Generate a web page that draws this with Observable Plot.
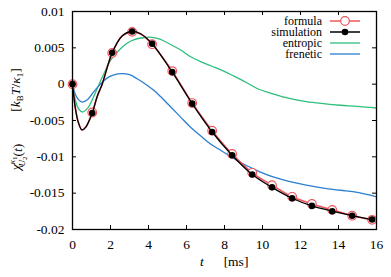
<!DOCTYPE html>
<html>
<head>
<meta charset="utf-8">
<script src="https://cdn.jsdelivr.net/npm/d3@7"></script>
<script src="https://cdn.jsdelivr.net/npm/@observablehq/plot@0.6"></script>
<style>
  body { margin: 0; background: #fff; }
</style>
</head>
<body>
<div id="chart"></div>
<script>
// ---- data ----
const markerT = [0, 1.04, 2.09, 3.14, 4.19, 5.25, 6.3, 7.35, 8.4, 9.46, 10.5, 11.56, 12.6, 13.67, 14.72, 15.77];
const formulaMarkers = [0, -0.0039, 0.0043, 0.0072, 0.0055, 0.0018, -0.0026, -0.0064, -0.0096, -0.0122, -0.0139, -0.0155, -0.01648, -0.0173, -0.0181, -0.01867];
const simulationMarkers = [0, -0.00397, 0.00432, 0.00725, 0.00556, 0.00166, -0.00268, -0.00658, -0.00978, -0.01243, -0.0142, -0.0157, -0.01675, -0.01748, -0.0181, -0.01863];

const curveT = [0, 0.15, 0.3, 0.5, 0.7, 1.04, 1.3, 1.56, 2.09, 2.6, 3.14, 3.6, 4.19, 5.25, 6.3, 7.35, 8.4, 9.46, 10.5, 11.56, 12.6, 13.67, 14.72, 15.77];
const simulationCurve = [0, -0.0033, -0.0052, -0.0063, -0.0059, -0.00397, -0.0017, 0, 0.00432, 0.0066, 0.00728, 0.0069, 0.00556, 0.00166, -0.00268, -0.00658, -0.00978, -0.01243, -0.0142, -0.0157, -0.01675, -0.01748, -0.0181, -0.01863];
const formulaCurve = [0, -0.0033, -0.0052, -0.0063, -0.0059, -0.0039, -0.0017, 0, 0.0043, 0.0066, 0.0072, 0.0069, 0.0055, 0.0018, -0.0026, -0.0064, -0.0096, -0.0122, -0.0139, -0.0155, -0.01648, -0.0173, -0.0181, -0.01867];

const entropicT = [0, 0.15, 0.3, 0.51, 0.8, 1.1, 1.4, 1.7, 2.0, 2.35, 2.7, 3.05, 3.4, 3.75, 4.1, 4.6, 5.16, 5.7, 6.2, 6.74, 7.3, 7.96, 8.5, 9.1, 9.72, 10.5, 11.47, 12.3, 13.2, 14.1, 14.98, 16];
const entropic = [0, -0.0022, -0.0033, -0.00383, -0.0033, -0.0018, 0, 0.0017, 0.00327, 0.0044, 0.0053, 0.0059, 0.00625, 0.0064, 0.00647, 0.0062, 0.00546, 0.0047, 0.0038, 0.0031, 0.0025, 0.0018, 0.0011, 0.0003, -0.0006, -0.0013, -0.002, -0.0024, -0.00268, -0.0029, -0.00305, -0.00328];

const freneticT = [0, 0.15, 0.3, 0.51, 0.8, 1.1, 1.47, 1.8, 2.1, 2.53, 3.0, 3.4, 3.85, 4.28, 4.63, 5.16, 5.68, 6.2, 6.74, 7.25, 7.79, 8.3, 8.84, 9.4, 9.89, 10.6, 11.5, 12.3, 13.2, 14.1, 15.0, 16];
const frenetic = [0, -0.0014, -0.0021, -0.00246, -0.0021, -0.0011, 0, 0.0008, 0.0012, 0.00144, 0.0013, 0.00075, 0.0, -0.00085, -0.0017, -0.0031, -0.0045, -0.0059, -0.0071, -0.0082, -0.0091, -0.0099, -0.0108, -0.0115, -0.0121, -0.0128, -0.01345, -0.0139, -0.0143, -0.0146, -0.0149, -0.0155];

const xTicks = [0, 2, 4, 6, 8, 10, 12, 14, 16];
const yTicks = [0.01, 0.005, 0, -0.005, -0.01, -0.015, -0.02];
const yTickLabels = ["0.01", "0.005", "0", "-0.005", "-0.01", "-0.015", "-0.02"];
const seriesNames = ["formula", "simulation", "entropic", "frenetic"];
const seriesColors = ["#f0545c", "#000000", "#2cbf7c", "#2a7fd0"];

// ---- build tables ----
const zip = (t, v) => t.map((x, i) => ({t: x, v: v[i]}));
const simCurve = zip(curveT, simulationCurve);
const forCurve = zip(curveT, formulaCurve);
const simPts = zip(markerT, simulationMarkers);
const forPts = zip(markerT, formulaMarkers);
const entData = zip(entropicT, entropic);
const freData = zip(freneticT, frenetic);

const W = 391, H = 277, mL = 72, mR = 15, mT = 11, mB = 48;
const fw = W - mL - mR, fh = H - mT - mB;
const tickLen = 4;
const ff = "Liberation Serif";

const svg = Plot.plot({
  width: W, height: H,
  marginLeft: mL, marginRight: mR, marginTop: mT, marginBottom: mB,
  x: {domain: [0, 16]},
  y: {domain: [-0.02, 0.01]},
  style: {fontFamily: ff, fontSize: "13.5px", background: "#fff", color: "#000"},
  marks: [
    Plot.line(entData, {x: "t", y: "v", stroke: seriesColors[2], strokeWidth: 1.3, curve: "catmull-rom"}),
    Plot.line(freData, {x: "t", y: "v", stroke: seriesColors[3], strokeWidth: 1.3, curve: "catmull-rom"}),
    Plot.line(forCurve, {x: "t", y: "v", stroke: seriesColors[0], strokeWidth: 1.6, curve: "catmull-rom"}),
    Plot.dot(forPts, {x: "t", y: "v", r: 4.3, stroke: seriesColors[0], strokeWidth: 1.2, fill: "#fff"}),
    Plot.line(simCurve, {x: "t", y: "v", stroke: seriesColors[1], strokeWidth: 1.3, curve: "catmull-rom"}),
    Plot.dot(simPts, {x: "t", y: "v", r: 3.3, fill: seriesColors[1], stroke: "none"}),
    // inward ticks on all four sides
    Plot.ruleX(xTicks, {x: d => d, insetTop: fh - tickLen, stroke: "#000", strokeWidth: 1}),
    Plot.ruleX(xTicks, {x: d => d, insetBottom: fh - tickLen, stroke: "#000", strokeWidth: 1}),
    Plot.ruleY(yTicks, {y: d => d, insetRight: fw - tickLen, stroke: "#000", strokeWidth: 1}),
    Plot.ruleY(yTicks, {y: d => d, insetLeft: fw - tickLen, stroke: "#000", strokeWidth: 1}),
    Plot.axisX(xTicks, {tickSize: 0, tickPadding: 10, label: null, fontSize: 13.5}),
    Plot.axisY(yTicks, {tickSize: 0, tickPadding: 8, label: null, fontSize: 13.5,
      tickFormat: d => yTickLabels[yTicks.indexOf(d)]}),
    Plot.frame({stroke: "#000", strokeWidth: 1.3})
  ]
});

const s = d3.select(svg);

// x-axis label
s.append("text").attr("x", 202).attr("y", 266).attr("text-anchor", "middle")
  .attr("font-family", ff).attr("font-size", 13.5).attr("font-style", "italic").text("t");
s.append("text").attr("x", 236).attr("y", 266).attr("text-anchor", "middle")
  .attr("font-family", ff).attr("font-size", 13.5).text("[ms]");

// y-axis label (rotated)
const yl1 = s.append("text")
  .attr("transform", "translate(20,157) rotate(-90)")
  .attr("text-anchor", "middle").attr("font-family", ff).attr("font-size", 13.5);
yl1.append("tspan").attr("font-style", "italic").text("χ");
yl1.append("tspan").attr("font-size", 9).attr("font-style", "italic").attr("dy", -5).text("κ");
yl1.append("tspan").attr("font-size", 7).attr("dy", 2).text("1");
yl1.append("tspan").attr("font-size", 9).attr("font-style", "italic").attr("dx", -10).attr("dy", 8).text("U");
yl1.append("tspan").attr("font-size", 7).attr("dy", 2).text("2");
yl1.append("tspan").attr("dy", -5).text("(");
yl1.append("tspan").attr("font-style", "italic").text("t");
yl1.append("tspan").text(")");

const yl2 = s.append("text")
  .attr("transform", "translate(20,90) rotate(-90)")
  .attr("text-anchor", "middle").attr("font-family", ff).attr("font-size", 13.5);
yl2.append("tspan").text("[");
yl2.append("tspan").attr("font-style", "italic").text("k");
yl2.append("tspan").attr("font-size", 9).attr("dy", 3).text("B");
yl2.append("tspan").attr("font-style", "italic").attr("dy", -3).text("T");
yl2.append("tspan").text("/");
yl2.append("tspan").attr("font-style", "italic").text("κ");
yl2.append("tspan").attr("font-size", 9).attr("dy", 3).text("1");
yl2.append("tspan").attr("dy", -3).text("]");

// legend
const lg = s.append("g").attr("font-family", ff);
seriesNames.forEach((name, i) => {
  const y = 21 + i * 11;
  lg.append("text").attr("x", 322).attr("y", y).attr("dy", "0.32em")
    .attr("text-anchor", "end").attr("font-size", 12).text(name);
  lg.append("line").attr("x1", 330).attr("x2", 360).attr("y1", y).attr("y2", y)
    .attr("stroke", seriesColors[i]).attr("stroke-width", i < 2 ? 1.5 : 1.3);
  if (i === 0) lg.append("circle").attr("cx", 345).attr("cy", y).attr("r", 4.3)
    .attr("fill", "#fff").attr("stroke", seriesColors[0]).attr("stroke-width", 1.2);
  if (i === 1) lg.append("circle").attr("cx", 345).attr("cy", y).attr("r", 3.3)
    .attr("fill", "#000");
});

document.getElementById("chart").appendChild(svg);
</script>
</body>
</html>
